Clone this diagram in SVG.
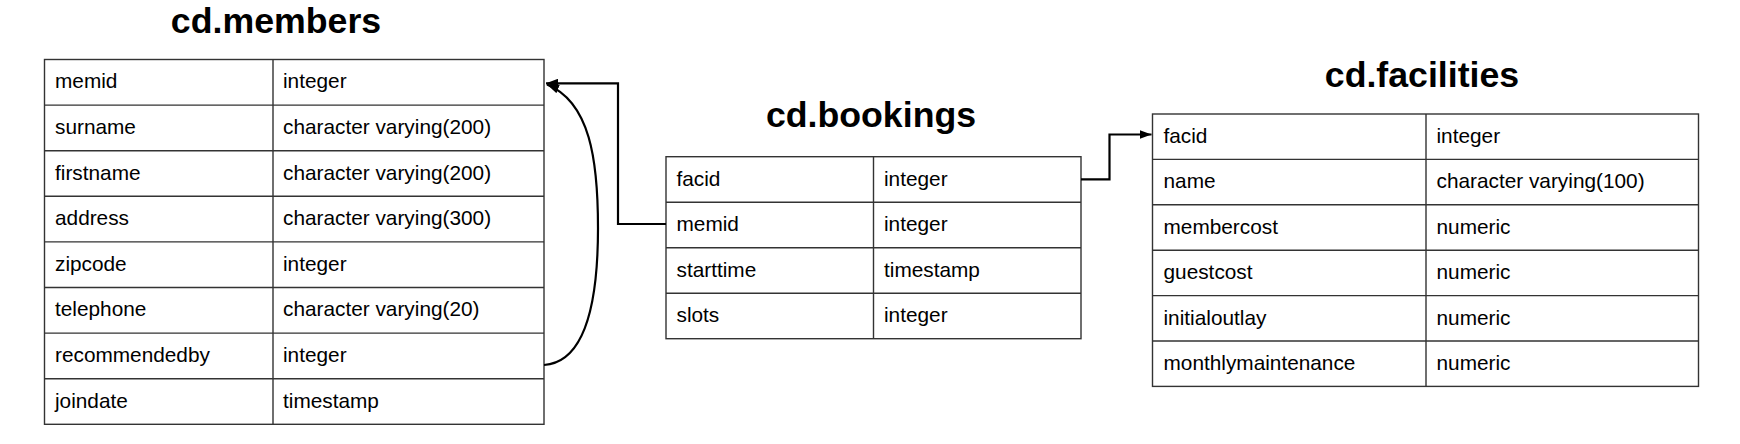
<svg xmlns="http://www.w3.org/2000/svg" width="1740" height="444" viewBox="0 0 1740 444">
<style>
.title{font-family:"Liberation Sans",Arial,sans-serif;font-weight:bold;font-size:35.7px;fill:#000}
.cell{font-family:"Liberation Sans",Arial,sans-serif;font-size:20.8px;fill:#000}
.tbl{fill:#fff;stroke:#333;stroke-width:1.4}
.ln{stroke:#333;stroke-width:1.4;fill:none}
.conn{stroke:#000;stroke-width:2.2;fill:none}
</style>
<defs>
<marker id="arr" viewBox="0 0 12 9" refX="12" refY="4.5" markerWidth="12" markerHeight="9" markerUnits="userSpaceOnUse" orient="auto">
<path d="M0,0 L12,4.5 L0,9 z" fill="#000"/>
</marker>
</defs>
<rect width="1740" height="444" fill="#fff"/>

<g id="members">
<text class="title" x="276" y="33" text-anchor="middle">cd.members</text>
<rect class="tbl" x="44.5" y="59.5" width="499.5" height="364.8"/>
<path class="ln" d="M273,59.5V424.3M44.5,105.1H544M44.5,150.7H544M44.5,196.3H544M44.5,241.9H544M44.5,287.5H544M44.5,333.1H544M44.5,378.7H544"/>
<g class="cell">
<text x="55" y="88.4">memid</text><text x="283" y="88.4">integer</text>
<text x="55" y="134">surname</text><text x="283" y="134">character varying(200)</text>
<text x="55" y="179.6">firstname</text><text x="283" y="179.6">character varying(200)</text>
<text x="55" y="225.2">address</text><text x="283" y="225.2">character varying(300)</text>
<text x="55" y="270.8">zipcode</text><text x="283" y="270.8">integer</text>
<text x="55" y="316.4">telephone</text><text x="283" y="316.4">character varying(20)</text>
<text x="55" y="362">recommendedby</text><text x="283" y="362">integer</text>
<text x="55" y="407.6">joindate</text><text x="283" y="407.6">timestamp</text>
</g>
</g>

<g id="bookings">
<text class="title" x="871" y="126.7" text-anchor="middle">cd.bookings</text>
<rect class="tbl" x="666" y="156.7" width="415" height="182"/>
<path class="ln" d="M873.5,156.7V338.7M666,202.2H1081M666,247.7H1081M666,293.2H1081"/>
<g class="cell">
<text x="676.5" y="185.6">facid</text><text x="884" y="185.6">integer</text>
<text x="676.5" y="231.1">memid</text><text x="884" y="231.1">integer</text>
<text x="676.5" y="276.6">starttime</text><text x="884" y="276.6">timestamp</text>
<text x="676.5" y="322.1">slots</text><text x="884" y="322.1">integer</text>
</g>
</g>

<g id="facilities">
<text class="title" x="1422" y="86.7" text-anchor="middle">cd.facilities</text>
<rect class="tbl" x="1152.5" y="114" width="546" height="272.4"/>
<path class="ln" d="M1426,114V386.4M1152.5,159.4H1698.5M1152.5,204.8H1698.5M1152.5,250.2H1698.5M1152.5,295.6H1698.5M1152.5,341H1698.5"/>
<g class="cell">
<text x="1163.5" y="142.9">facid</text><text x="1436.5" y="142.9">integer</text>
<text x="1163.5" y="188.3">name</text><text x="1436.5" y="188.3">character varying(100)</text>
<text x="1163.5" y="233.7">membercost</text><text x="1436.5" y="233.7">numeric</text>
<text x="1163.5" y="279.1">guestcost</text><text x="1436.5" y="279.1">numeric</text>
<text x="1163.5" y="324.5">initialoutlay</text><text x="1436.5" y="324.5">numeric</text>
<text x="1163.5" y="369.9">monthlymaintenance</text><text x="1436.5" y="369.9">numeric</text>
</g>
</g>

<g id="connectors">
<path class="conn" d="M666,224H618V83.3H546" marker-end="url(#arr)"/>
<path class="conn" d="M544,365C588,362 598,295 598,228C598,160 590,102 547,84.5" marker-end="url(#arr)"/>
<path class="conn" d="M1081,179.3H1109.5V134.5H1151.5" marker-end="url(#arr)"/>
</g>
</svg>
